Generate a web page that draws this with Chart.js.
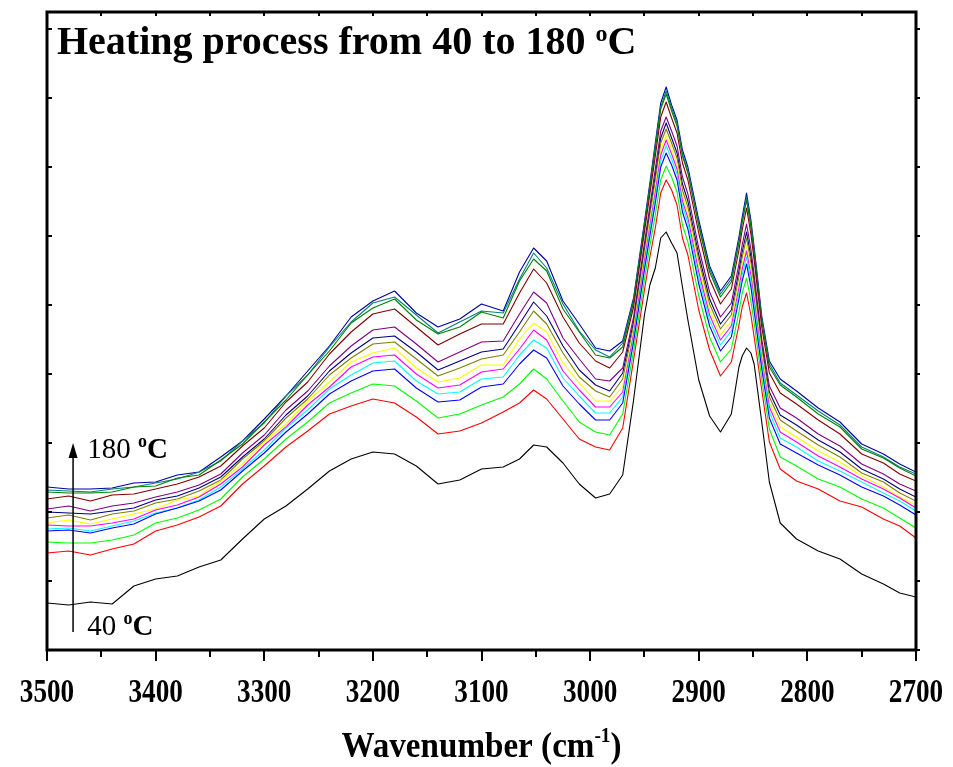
<!DOCTYPE html>
<html>
<head>
<meta charset="utf-8">
<script src="https://cdn.jsdelivr.net/npm/chart.js@4.4.1/dist/chart.umd.min.js"></script>
<style>
html,body{margin:0;padding:0;background:#fff;}
#wrap{width:953px;height:767px;position:relative;}
</style>
</head>
<body>
<div id="wrap"><canvas id="c" width="953" height="767"></canvas></div>
<script>
// ---- DATA (absorbance, arbitrary units) ----
const wavenumbers = [3500,3480,3460,3440,3420,3400,3380,3360,3340,3320,3300,3280,3260,3240,3220,3200,3180,3160,3140,3120,3100,3080,3065,3052,3040,3025,3010,2995,2982,2970,2960,2950,2945,2940,2935,2930,2925,2920,2915,2910,2900,2890,2880,2870,2863,2860,2856,2852,2849,2842,2835,2825,2810,2790,2770,2750,2730,2715,2700];

const spec40C   = [47,45,48,46,64,71,74,83,90,111,131,144,161,179,191,198,196,184,166,170,181,183,191,205,203,187,166,152,156,175,250,335,365,382,412,418,407,397,363,330,270,234,218,236,283,294,302,297,286,228,168,127,111,99,91,76,66,57,53];
const specRed   = [97,99,95,101,106,119,125,133,144,166,184,203,219,236,244,251,247,233,216,219,227,238,247,260,251,231,211,203,200,222,290,360,393,422,457,470,460,445,412,395,340,300,274,288,325,343,357,335,313,260,208,181,169,161,149,143,131,124,112];
const specGreen = [108,107,107,110,115,127,132,140,151,173,191,211,228,247,257,266,264,249,232,236,245,253,266,281,271,249,228,218,215,236,299,370,404,435,470,484,473,458,425,408,354,313,288,301,338,357,372,349,327,271,221,193,184,171,163,151,142,132,122];
const specBlue  = [119,120,117,122,126,136,142,149,160,179,197,218,236,256,269,279,281,262,248,250,263,266,286,300,292,264,246,230,230,247,308,380,414,447,483,497,485,470,438,421,366,324,299,313,351,369,386,363,339,281,232,206,197,185,175,163,154,145,135];
const specCyan  = [121,122,119,124,129,137,142,150,163,181,200,222,240,261,275,287,289,269,256,258,271,273,295,310,302,272,254,237,237,253,312,384,420,453,489,504,491,476,444,427,372,330,305,319,357,375,393,369,345,287,238,212,203,189,179,168,157,149,139];
const specMagenta=[125,124,124,127,131,140,145,153,166,183,205,223,245,263,283,293,295,276,262,265,278,281,301,320,310,279,260,243,243,258,316,389,424,458,495,510,496,481,449,432,378,335,310,324,362,381,399,375,351,291,243,218,208,194,183,171,161,152,142];
const specYellow= [127,130,126,131,136,141,150,154,169,186,208,226,249,268,288,297,302,282,268,272,285,285,311,327,318,287,267,249,249,263,320,393,429,463,500,515,501,486,454,437,383,340,315,329,367,386,405,381,356,296,247,223,213,199,188,174,163,153,145];
const specOlive = [132,135,130,136,139,147,151,159,170,191,209,232,251,275,292,306,308,291,274,282,291,295,318,339,326,297,273,259,253,271,324,397,434,469,507,521,507,492,460,443,390,346,321,335,373,393,412,387,363,301,253,230,219,205,193,177,168,157,149];
const specNavy  = [138,137,136,139,142,150,154,162,173,193,211,235,254,279,297,312,314,298,280,289,298,301,326,348,334,304,280,265,259,277,328,401,438,474,512,527,512,497,466,449,395,351,326,340,379,398,418,393,368,305,258,235,225,210,198,181,171,161,153];
const specPurple= [141,144,139,144,147,153,158,165,176,197,215,240,259,284,304,320,323,306,288,298,308,309,336,358,347,312,291,271,269,282,333,407,444,481,519,533,519,504,473,456,402,358,333,347,386,405,426,401,375,311,264,242,232,216,204,186,176,166,159];
const specWine  = [151,154,149,155,156,161,166,173,184,204,222,248,268,296,318,336,341,323,305,316,326,326,357,381,367,333,307,289,282,298,343,418,456,494,533,548,532,517,487,470,417,371,346,361,400,420,442,416,390,323,277,257,246,230,216,196,187,176,169];
const specDkGreen=[158,157,157,158,163,164,172,175,190,206,228,250,275,299,327,342,351,330,316,323,338,332,369,391,379,341,318,295,292,303,348,423,462,501,541,556,539,524,494,477,424,378,353,368,407,427,450,423,397,329,283,265,253,236,223,201,192,182,174];
const specTeal  = [160,159,158,161,163,167,171,178,189,209,227,254,275,303,328,347,353,335,317,328,339,337,371,397,382,346,319,300,293,307,350,425,464,504,543,559,542,527,496,479,426,381,356,371,409,429,453,426,399,331,286,267,255,239,225,203,193,183,176];
const specRoyal = [163,161,161,162,167,168,175,178,193,209,231,254,279,304,333,349,359,337,323,331,346,339,378,402,389,349,326,302,299,309,352,428,467,507,547,563,545,530,500,483,430,384,359,374,413,433,457,430,403,334,289,271,259,242,228,206,196,186,178];

const xTickValues = [3500,3400,3300,3200,3100,3000,2900,2800,2700];
const xTickLabels = ['3500','3400','3300','3200','3100','3000','2900','2800','2700'];
const yTickValues = [0,69,138,207,276,345,414,483,552,621];

// ---- styles ----
const seriesList = [
  [spec40C,'#000000'],[specRed,'#FF0000'],[specGreen,'#00FF00'],[specBlue,'#0000FF'],
  [specCyan,'#00FFFF'],[specMagenta,'#FF00FF'],[specYellow,'#FFFF00'],[specOlive,'#808000'],
  [specNavy,'#000080'],[specPurple,'#800080'],[specWine,'#800000'],[specDkGreen,'#008000'],
  [specTeal,'#008080'],[specRoyal,'#0000A0']
];
const datasets = seriesList.map(([arr,col],i)=>({
  label:'s'+i,
  data: wavenumbers.map((w,j)=>({x:w,y:arr[j]})),
  borderColor: col, borderWidth: 1.1, pointRadius: 0, fill:false, tension:0
}));

const SERIF = "'Liberation Serif','Times New Roman',serif";

function richText(ctx, parts, x, y, align, sx){
  ctx.save();
  let widths = parts.map(p=>{ctx.font=p[1]; return ctx.measureText(p[0]).width;});
  let total = widths.reduce((a,b)=>a+b,0)*sx;
  let start = align==='center' ? x - total/2 : x;
  ctx.translate(start, y);
  ctx.scale(sx,1);
  let cx = 0;
  parts.forEach((p,i)=>{
    ctx.font = p[1];
    ctx.fillStyle = '#000';
    ctx.textBaseline = 'alphabetic';
    ctx.textAlign = 'left';
    ctx.fillText(p[0], cx, -(p[2]||0));
    cx += widths[i];
  });
  ctx.restore();
}

const framePlugin = {
  id:'frame',
  afterDraw(chart){
    const ctx = chart.ctx;
    const {left,right,top,bottom} = chart.chartArea;
    const xs = chart.scales.x, ys = chart.scales.y;
    ctx.save();
    ctx.strokeStyle = '#000';
    ctx.lineWidth = 2;
    for(let v=2700; v<=3500; v+=50){
      const px = Math.round(xs.getPixelForValue(v));
      const len = (v%100===0)?11:7;
      ctx.beginPath(); ctx.moveTo(px, bottom); ctx.lineTo(px, bottom+len); ctx.stroke();
      ctx.beginPath(); ctx.moveTo(px, top); ctx.lineTo(px, top+4); ctx.stroke();
    }
    yTickValues.forEach(v=>{
      const py = Math.round(ys.getPixelForValue(v));
      ctx.beginPath(); ctx.moveTo(left, py); ctx.lineTo(left+5, py); ctx.stroke();
      ctx.beginPath(); ctx.moveTo(right, py); ctx.lineTo(right+4, py); ctx.stroke();
    });
    ctx.lineWidth = 3;
    ctx.strokeRect(left, top, right-left, bottom-top);
    xTickValues.forEach((v,i)=>{
      const px = xs.getPixelForValue(v);
      richText(ctx, [[xTickLabels[i], 'bold 34px '+SERIF, 0]], px, bottom+52, 'center', 0.8);
    });
    richText(ctx, [
      ['Wavenumber (cm','bold 36px '+SERIF,0],
      ['-1','bold 21px '+SERIF,15],
      [')','bold 36px '+SERIF,0]
    ], (left+right)/2, bottom+107, 'center', 0.92);
    richText(ctx, [
      ['Heating process from 40 to 180 ','bold 40px '+SERIF,0],
      ['o','bold 24px '+SERIF,13],
      ['C','bold 40px '+SERIF,0]
    ], left+10, top+42, 'left', 1);
    const ax = xs.getPixelForValue(3476);
    const yLow = ys.getPixelForValue(18), yHigh = ys.getPixelForValue(207);
    ctx.lineWidth = 1.5;
    ctx.beginPath(); ctx.moveTo(ax, yLow); ctx.lineTo(ax, yHigh+12); ctx.stroke();
    ctx.fillStyle='#000';
    ctx.beginPath(); ctx.moveTo(ax, yHigh); ctx.lineTo(ax-4.5, yHigh+15); ctx.lineTo(ax+4.5, yHigh+15); ctx.closePath(); ctx.fill();
    const tx = xs.getPixelForValue(3463);
    richText(ctx, [
      ['180 ','29px '+SERIF,0],['o','bold 18px '+SERIF,11],['C','bold 29px '+SERIF,0]
    ], tx, ys.getPixelForValue(192), 'left', 1);
    richText(ctx, [
      ['40 ','29px '+SERIF,0],['o','bold 18px '+SERIF,11],['C','bold 29px '+SERIF,0]
    ], tx, ys.getPixelForValue(15), 'left', 1);
    ctx.restore();
  }
};

new Chart(document.getElementById('c'), {
  type:'line',
  data:{datasets},
  options:{
    responsive:false,
    animation:false,
    devicePixelRatio:1,
    layout:{padding:{left:47,right:37,top:12,bottom:0}},
    plugins:{legend:{display:false},tooltip:{enabled:false},title:{display:false}},
    elements:{line:{borderJoinStyle:'round'}},
    scales:{
      x:{type:'linear',reverse:true,min:2700,max:3500,
         ticks:{display:false},grid:{display:false},border:{display:false},
         afterFit(s){s.height=117;}},
      y:{type:'linear',min:0,max:638,display:false}
    }
  },
  plugins:[framePlugin]
});
</script>
</body>
</html>
